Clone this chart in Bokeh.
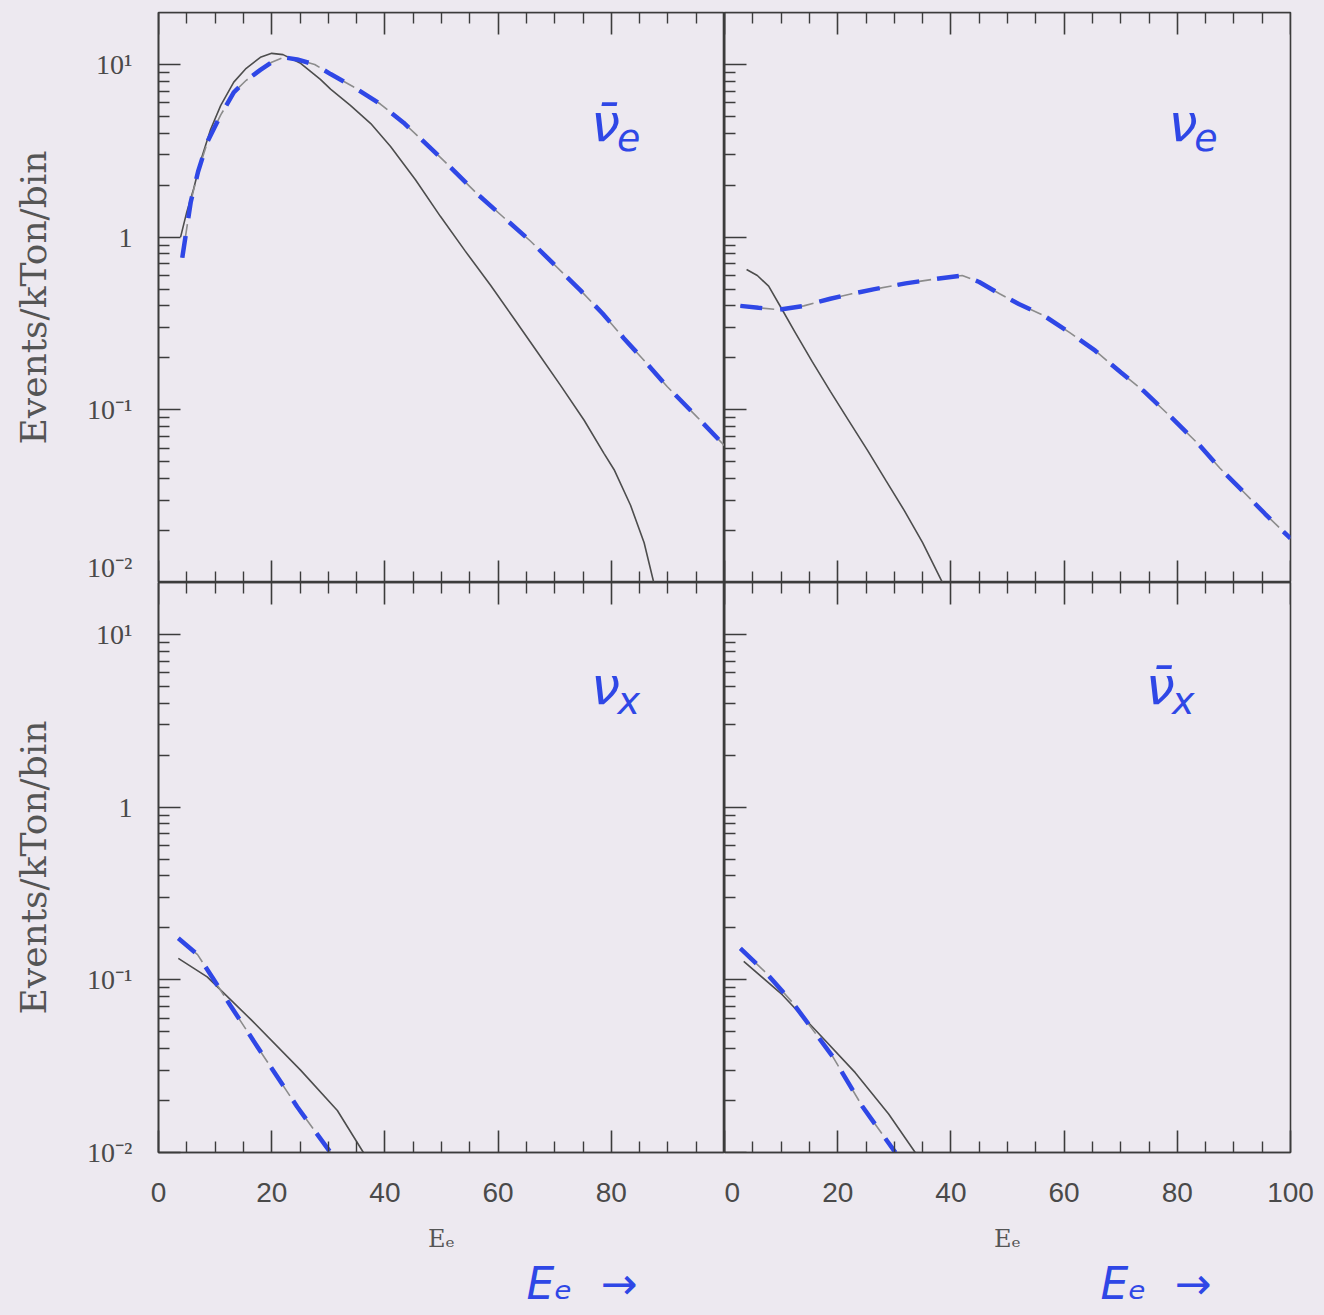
from bokeh.plotting import figure
from bokeh.layouts import gridplot
from bokeh.models import (Range1d, LinearAxis, LogAxis, FixedTicker, Label, Title,
                          BasicTickFormatter, CustomLabelingPolicy)
from bokeh.embed import file_html
from bokeh.resources import INLINE

# ---- event spectra (events / kTon / bin) versus positron/electron energy E_e ----
# anti-nu_e
nuebar_solid_E = [3.9, 5.0, 6.2, 7.5, 9.2, 11.0, 13.3, 15.5, 18.0, 20.0, 22.0, 25.0, 28.6, 30.4,
                  33.9, 37.5, 41.0, 45.4, 49.8, 54.2, 58.7, 62.8, 66.9, 71.0, 75.2, 78.7, 80.5,
                  83.4, 85.8, 87.5]
nuebar_solid_N = [1.0, 1.4, 1.9, 2.8, 4.2, 5.8, 7.9, 9.5, 11.0, 11.6, 11.4, 10.2, 8.2, 7.2,
                  5.8, 4.55, 3.35, 2.15, 1.32, 0.83, 0.525, 0.338, 0.217, 0.139, 0.087, 0.056, 0.045,
                  0.028, 0.017, 0.010]
nuebar_dash_E = [4.2, 5.7, 7.0, 8.7, 11.0, 13.3, 15.5, 18.0, 20.0, 22.1, 24.5, 27.6, 30.4, 34.5,
                 39.2, 43.3, 49.8, 56.4, 61.0, 65.7, 70.0, 74.6, 78.5, 82.2, 86.0, 89.9, 95.0, 100.0]
nuebar_dash_N = [0.76, 1.6, 2.4, 3.6, 5.1, 6.9, 8.1, 9.3, 10.3, 11.0, 10.7, 10.0, 8.8, 7.4,
                 5.9, 4.6, 2.9, 1.77, 1.3, 0.95, 0.69, 0.49, 0.36, 0.26, 0.19, 0.136, 0.092, 0.062]

# nu_e
nue_solid_E = [3.9, 5.8, 7.8, 10.0, 12.4, 15.5, 18.7, 22.0, 25.3, 28.5, 31.8, 35.0, 38.5]
nue_solid_N = [0.65, 0.60, 0.52, 0.39, 0.284, 0.19, 0.128, 0.086, 0.058, 0.039, 0.026, 0.017, 0.010]
nue_dash_E = [2.8, 6.0, 9.7, 14.0, 18.7, 22.5, 26.5, 32.0, 36.9, 42.0, 45.0, 48.6, 52.0, 56.5,
              61.0, 65.5, 70.0, 74.0, 79.0, 83.8, 87.5, 91.5, 95.5, 100.0]
nue_dash_N = [0.40, 0.39, 0.38, 0.40, 0.44, 0.47, 0.50, 0.54, 0.57, 0.60, 0.55, 0.47, 0.41, 0.35,
              0.28, 0.22, 0.165, 0.129, 0.090, 0.063, 0.046, 0.034, 0.025, 0.018]

# nu_x
nux_solid_E = [3.5, 8.6, 16.3, 25.1, 31.6, 36.2]
nux_solid_N = [0.133, 0.104, 0.059, 0.030, 0.0175, 0.010]
nux_dash_E = [3.5, 6.9, 9.5, 12.7, 18.6, 24.5, 30.4]
nux_dash_N = [0.174, 0.14, 0.1035, 0.071, 0.036, 0.0184, 0.010]

# anti-nu_x
nuxbar_solid_E = [3.4, 10.2, 16.1, 23.1, 29.0, 33.7]
nuxbar_solid_N = [0.128, 0.082, 0.051, 0.029, 0.0167, 0.010]
nuxbar_dash_E = [2.8, 7.2, 12.0, 19.1, 24.4, 30.2]
nuxbar_dash_N = [0.152, 0.111, 0.074, 0.036, 0.0184, 0.010]

# ---- axes ----
X_MIN, X_MAX = 0, 100
Y_MIN, Y_MAX = 0.01, 20
X_MAJOR = [0, 20, 40, 60, 80, 100]
X_MINOR = [v for v in range(5, 100, 5) if v % 20]
Y_MAJOR = [0.01, 0.1, 1, 10]
Y_MAJOR_LABELS = ["10⁻²", "10⁻¹", "1", "10¹"]
Y_MINOR = [m * d for d in (0.01, 0.1, 1.0) for m in range(2, 10)]

BG = "#ede9f0"
INK = "#3c3c3c"
PEN = "#2f47e6"

FRAME_W, FRAME_H = 566, 570


def hide_labels(ax, at):
    # ticks only on this side: pin the axis to the frame edge, draw no labels
    ax.fixed_location = at
    ax.formatter = BasicTickFormatter()
    ax.major_label_policy = CustomLabelingPolicy(code="return new Set()")
    ax.major_label_text_font_size = "1px"
    ax.major_label_standoff = 0


def tick_style():
    return dict(major_tick_in=22, major_tick_out=0, minor_tick_in=11, minor_tick_out=0,
                axis_line_color=INK, axis_line_width=1.6,
                major_tick_line_color=INK, major_tick_line_width=1.6,
                minor_tick_line_color=INK, minor_tick_line_width=1.4)


def panel(col, row, solid_E, solid_N, dash_E, dash_N):
    left = col == 0
    bottom = row == 1
    p = figure(frame_width=FRAME_W, frame_height=FRAME_H,
               x_range=Range1d(X_MIN, X_MAX), y_range=Range1d(Y_MIN, Y_MAX),
               y_axis_type="log", x_axis_location=None, y_axis_location=None,
               output_backend="svg", toolbar_location=None,
               min_border_left=158 if left else 0,
               min_border_right=0 if left else 34,
               min_border_top=12 if row == 0 else 0,
               min_border_bottom=163 if bottom else 0,
               background_fill_color=BG, border_fill_color=BG,
               outline_line_color=INK, outline_line_width=1.6)
    p.xgrid.grid_line_color = None
    p.ygrid.grid_line_color = None

    top_ax = LinearAxis(ticker=FixedTicker(ticks=X_MAJOR, minor_ticks=X_MINOR), **tick_style())
    hide_labels(top_ax, Y_MAX)
    p.add_layout(top_ax, "above")

    bot_ax = LinearAxis(ticker=FixedTicker(ticks=X_MAJOR, minor_ticks=X_MINOR), **tick_style())
    if bottom:
        bot_ax.major_label_text_font = "Liberation Sans"
        bot_ax.major_label_text_font_size = "28px"
        bot_ax.major_label_text_color = "#4a4a4a"
        bot_ax.major_label_standoff = 30
        if left:
            bot_ax.major_label_overrides = {100: ""}
        bot_ax.axis_label = "Eₑ"
        bot_ax.axis_label_text_font = "DejaVu Serif"
        bot_ax.axis_label_text_font_style = "normal"
        bot_ax.axis_label_text_font_size = "24px"
        bot_ax.axis_label_text_color = "#555555"
        bot_ax.axis_label_standoff = 20
    else:
        hide_labels(bot_ax, Y_MIN)
    p.add_layout(bot_ax, "below")

    ay = LogAxis(ticker=FixedTicker(ticks=Y_MAJOR, minor_ticks=Y_MINOR), **tick_style())
    if left:
        ay.major_label_overrides = dict(zip(Y_MAJOR, Y_MAJOR_LABELS))
        ay.major_label_text_font = "Liberation Serif"
        ay.major_label_text_font_size = "28px"
        ay.major_label_text_color = "#4a4a4a"
        ay.major_label_standoff = 26
        ay.axis_label = "Events/kTon/bin"
        ay.axis_label_text_font = "DejaVu Serif"
        ay.axis_label_text_font_style = "normal"
        ay.axis_label_text_font_size = "36px"
        ay.axis_label_text_color = "#555555"
        ay.axis_label_standoff = 30
    else:
        hide_labels(ay, X_MIN)
    p.add_layout(ay, "left")

    # solid spectrum
    p.line(solid_E, solid_N, line_color="#4d4d4d", line_width=1.6)
    # dashed spectrum: grey print line with the blue pen traced over it
    p.line(dash_E, dash_N, line_color="#8c8c8c", line_width=1.6, line_dash="34 6")
    p.line(dash_E, dash_N, line_color=PEN, line_width=4.5, line_dash="22 18")
    return p


def pen_label(p, x, y, sub, bar=False):
    p.add_layout(Label(x=x, y=y, text=("ν̄" if bar else "ν"), text_color=PEN,
                       text_font="DejaVu Sans", text_font_style="italic",
                       text_font_size="52px", text_align="center", text_baseline="middle"))
    p.add_layout(Label(x=x, y=y, x_offset=23, y_offset=-15, text=sub, text_color=PEN,
                       text_font="DejaVu Sans", text_font_style="italic",
                       text_font_size="38px", text_align="center", text_baseline="middle"))


def pen_axis_note(p, offset):
    p.add_layout(Title(text="Eₑ\u00a0\u00a0→", align="left", offset=offset, standoff=0,
                       text_color=PEN, text_font="DejaVu Sans", text_font_style="italic",
                       text_font_size="44px"), "below")


p_tl = panel(0, 0, nuebar_solid_E, nuebar_solid_N, nuebar_dash_E, nuebar_dash_N)
p_tr = panel(1, 0, nue_solid_E, nue_solid_N, nue_dash_E, nue_dash_N)
p_bl = panel(0, 1, nux_solid_E, nux_solid_N, nux_dash_E, nux_dash_N)
p_br = panel(1, 1, nuxbar_solid_E, nuxbar_solid_N, nuxbar_dash_E, nuxbar_dash_N)

pen_label(p_tl, 79, 4.6, "e", bar=True)
pen_label(p_tr, 81, 4.6, "e")
pen_label(p_bl, 79, 5.0, "x")
pen_label(p_br, 77, 5.0, "x", bar=True)

pen_axis_note(p_bl, 368)
pen_axis_note(p_br, 376)

grid = gridplot([[p_tl, p_tr], [p_bl, p_br]], toolbar_location=None)
grid.styles = {"background-color": BG}

open("out.html", "w").write(file_html(grid, INLINE))
